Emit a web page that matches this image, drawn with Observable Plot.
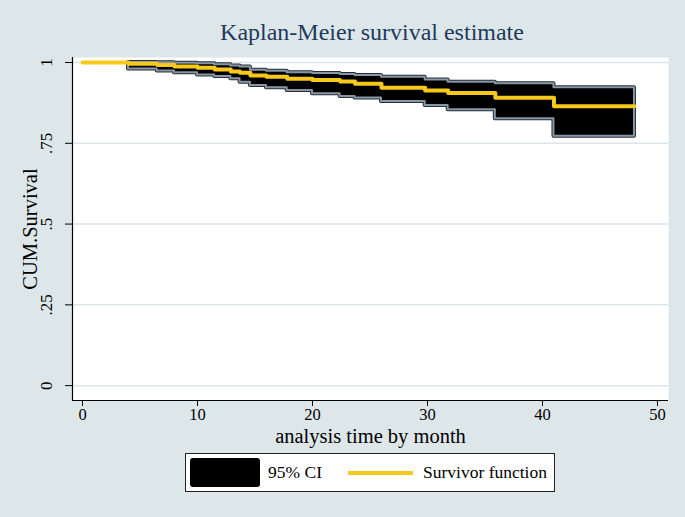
<!DOCTYPE html>
<html><head><meta charset="utf-8">
<script src="https://cdn.jsdelivr.net/npm/d3@7"></script>
<script src="https://cdn.jsdelivr.net/npm/@observablehq/plot@0.6"></script>
<style>
body{margin:0;background:#dde7e9;}
#wrap{position:relative;width:685px;height:517px;background:#dde7e9;font-family:"Liberation Serif","DejaVu Serif",serif;overflow:hidden;}
#title{position:absolute;top:18px;left:72px;width:600px;text-align:center;font-size:24px;color:#1f3a5c;line-height:28px;}
#chart{position:absolute;top:48px;left:0;}
#legend{position:absolute;left:185px;top:453px;width:368px;height:37px;border:1.5px solid #222;background:#fff;font-size:17.5px;color:#000;}
#legend .sw{position:absolute;left:4px;top:4px;width:70px;height:29px;background:#000;border-radius:3px;}
#legend .t1{position:absolute;left:82px;top:0;line-height:37px;}
#legend .ln{position:absolute;left:162px;top:17px;width:65px;height:4px;background:#f7c91a;}
#legend .t2{position:absolute;left:237px;top:0;line-height:37px;}
</style>
</head><body>
<div id="wrap">
  <div id="title">Kaplan-Meier survival estimate</div>
  <div id="chart"></div>
  <div id="legend"><div class="sw"></div><div class="t1">95% CI</div><div class="ln"></div><div class="t2">Survivor function</div></div>
</div>
<script>
const times = [0, 4, 6.5, 8, 10, 11.5, 12.9, 13.7, 14.6, 16, 17.8, 20, 22.4, 23.7, 26, 29.8, 31.8, 35.9, 41, 48];
const surv  = [1.000, 0.996, 0.992, 0.988, 0.984, 0.978, 0.972, 0.968, 0.960, 0.956, 0.950, 0.946, 0.941, 0.934, 0.922, 0.913, 0.906, 0.891, 0.865, 0.865];
const upper = [null, 1.000, 0.999, 0.998, 0.996, 0.993, 0.989, 0.986, 0.976, 0.973, 0.968, 0.966, 0.963, 0.960, 0.954, 0.946, 0.939, 0.934, 0.922, 0.922];
const lower = [null, 0.980, 0.974, 0.968, 0.961, 0.957, 0.950, 0.939, 0.929, 0.922, 0.913, 0.903, 0.895, 0.890, 0.879, 0.867, 0.854, 0.826, 0.772, 0.772];
const xTicks = [0, 10, 20, 30, 40, 50];
const yTicks = [0, 0.25, 0.5, 0.75, 1];
const yTickLabels = ["0", ".25", ".5", ".75", "1"];

const rows = times.map((t, i) => ({t, s: surv[i], hi: upper[i], lo: lower[i]}));
const band = rows.filter(d => d.hi != null);
const xMin = -0.87, xMax = 50.96, yMin = -0.046, yMax = 1.0155;

const plot = Plot.plot({
  width: 685, height: 410,
  marginTop: 9, marginBottom: 58, marginLeft: 72, marginRight: 17,
  style: {fontFamily: "Liberation Serif, DejaVu Serif, serif", fontSize: "17px", background: "transparent", color: "#000"},
  x: {domain: [xMin, xMax]},
  y: {domain: [yMin, yMax]},
  marks: [
    Plot.frame({fill: "white", stroke: null}),
    Plot.gridY(yTicks, {stroke: "#dbe5e8", strokeOpacity: 1, strokeWidth: 1.5}),
    Plot.areaY(band, {x: "t", y1: "lo", y2: "hi", curve: "step-after", fill: "black", stroke: "#2a2e33", strokeWidth: 4, strokeLinejoin: "round"}),
    Plot.areaY(band, {x: "t", y1: "lo", y2: "hi", curve: "step-after", fill: "black", stroke: "#8797a6", strokeWidth: 2}),
    Plot.lineY(rows, {x: "t", y: "s", curve: "step-after", stroke: "#f7c91a", strokeWidth: 4, strokeLinecap: "round"}),
    Plot.ruleX([xMin], {stroke: "#000", strokeWidth: 1.2}),
    Plot.ruleY([yMin], {stroke: "#000", strokeWidth: 1.2}),
    Plot.axisY(yTicks, {tickFormat: (d) => yTickLabels[yTicks.indexOf(d)], tickRotate: -90, tickSize: 7, tickPadding: 14, label: null, fontSize: 17}),
    Plot.axisX(xTicks, {tickSize: 6, tickPadding: 2, label: null, fontSize: 16.5}),
    Plot.text(["CUM.Survival"], {frameAnchor: "left", dx: -42, rotate: -90, textAnchor: "middle", fontSize: 20.5}),
    Plot.text(["analysis time by month"], {frameAnchor: "bottom", dy: 42, fontSize: 20.5})
  ]
});
document.getElementById("chart").appendChild(plot);
</script>
</body></html>
